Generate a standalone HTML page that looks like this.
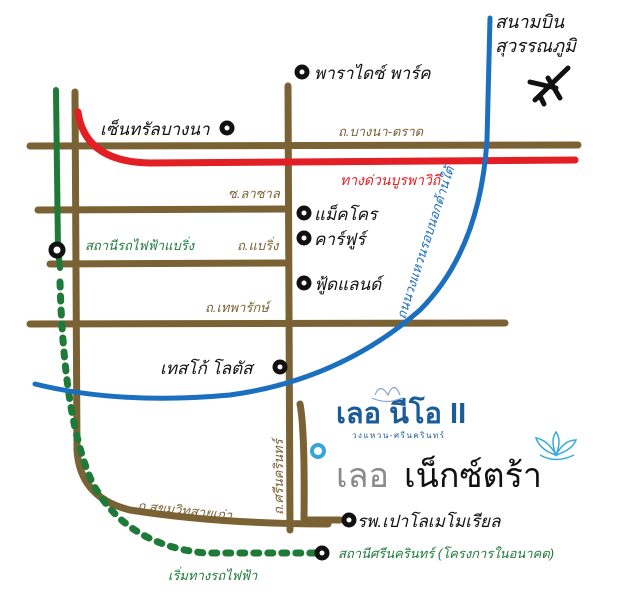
<!DOCTYPE html>
<html><head><meta charset="utf-8"><style>
html,body{margin:0;padding:0;background:#fff;}
svg{display:block;}
text{font-family:"Liberation Sans","Noto Sans CJK SC","WenQuanYi Zen Hei",sans-serif;}
</style></head><body>
<svg width="632" height="609" viewBox="0 0 632 609" xmlns="http://www.w3.org/2000/svg">
<g fill="none" stroke-linecap="round">
<g stroke="#7a6235" stroke-width="7">
<path d="M30 146 L578 145"/>
<path d="M38 210 L286 209"/>
<path d="M50 264 L286 263"/>
<path d="M30 324 L505 323"/>
<path d="M288 86 L290 530"/>
<path d="M75 92 L77 450 Q80 498 130 510 Q220 524 328 524"/>
<path d="M300 404 Q305 430 304 520 L340 520"/>
</g>
<path d="M78 112 Q85 162 150 163 L575 160" stroke="#e31e24" stroke-width="7"/>
<path d="M56 90 L58 250 L60 268" stroke="#1f7a3a" stroke-width="6"/>
<path d="M60 282 Q64 420 92 482 Q125 545 205 553 L318 553" stroke="#1f7a3a" stroke-width="7" stroke-dasharray="5 9"/>
<path d="M490 18 L487 140 Q480 250 420 310 Q340 380 230 395 Q120 405 35 384" stroke="#1b6fbf" stroke-width="5"/>
</g>
<g fill="#fff" stroke="#111" stroke-width="5">
<circle cx="302" cy="72" r="5"/>
<circle cx="227" cy="128" r="5"/>
<circle cx="304" cy="213" r="5"/>
<circle cx="304" cy="238" r="5"/>
<circle cx="304" cy="283" r="5"/>
<circle cx="280" cy="367" r="5"/>
<circle cx="349" cy="520" r="5"/>
<circle cx="322" cy="553" r="5"/>
<circle cx="57" cy="250" r="6"/>
</g>
<circle cx="318" cy="451" r="6" fill="#fff" stroke="#36a6d8" stroke-width="4"/>
<g fill="#111" font-style="italic">
<text x="495" y="28" font-size="18">สนามบิน</text>
<text x="495" y="52" font-size="18">สุวรรณภูมิ</text>
<text x="314" y="79" font-size="17">พาราไดซ์ พาร์ค</text>
<text x="100" y="135" font-size="17">เซ็นทรัลบางนา</text>
<text x="314" y="220" font-size="17">แม็คโคร</text>
<text x="314" y="245" font-size="17">คาร์ฟูร์</text>
<text x="314" y="290" font-size="17">ฟู้ดแลนด์</text>
<text x="160" y="374" font-size="17">เทสโก้ โลตัส</text>
<text x="357" y="527" font-size="17">รพ.เปาโลเมโมเรียล</text>
</g>
<g stroke="#111" stroke-width="5" fill="none" stroke-linecap="round">
<path d="M535 100 L568 68"/>
<path d="M548 78 L560 98"/>
<path d="M530 82 L556 88"/>
<path d="M540 96 L544 104"/>
</g>
<g fill="#7a6235" font-size="13" font-style="italic">
<text x="338" y="136">ถ.บางนา-ตราด</text>
<text x="228" y="198">ซ.ลาซาล</text>
<text x="237" y="250">ถ.แบริ่ง</text>
<text x="205" y="312">ถ.เทพารักษ์</text>
<text x="137" y="510" transform="rotate(6 137 510)">ถ.สุขุมวิทสายเก่า</text>
<text x="283" y="515" transform="rotate(-90 283 515)">ถ.ศรีนครินทร์</text>
</g>
<text x="340" y="185" fill="#e31e24" font-size="14" font-style="italic">ทางด่วนบูรพาวิถี</text>
<text x="405" y="320" fill="#1b6fbf" font-size="13" font-style="italic" transform="rotate(-72 405 320)">ถนนวงแหวนรอบนอกด้านใต้</text>
<g fill="#1f7a3a" font-size="13" font-style="italic">
<text x="85" y="250">สถานีรถไฟฟ้าแบริ่ง</text>
<text x="338" y="558">สถานีศรีนครินทร์ (โครงการในอนาคต)</text>
<text x="168" y="580">เริ่มทางรถไฟฟ้า</text>
</g>
<text x="336" y="423" fill="#1a5c97" font-size="29" font-weight="bold">เลอ นีโอ II</text>
<text x="352" y="438" fill="#1a5c97" font-size="8" letter-spacing="1.5">วงแหวน-ศรีนครินทร์</text>
<g stroke="#8aa6c8" stroke-width="1.2" fill="none">
<path d="M375 395 Q380 382 388 395 Q394 380 400 395"/>
<path d="M372 398 Q387 405 402 398"/>
</g>
<text x="336" y="487" fill="#8a8a8a" font-size="34">เลอ</text>
<text x="404" y="487" fill="#111" font-size="34">เน็กซ์ตร้า</text>
<g stroke="#39a9dc" stroke-width="1.5" fill="none">
<path d="M556 455 Q550 440 556 432 Q562 440 556 455Z"/>
<path d="M556 455 Q540 450 536 438 Q548 440 556 455Z"/>
<path d="M556 455 Q572 450 576 440 Q564 440 556 455Z"/>
<path d="M540 455 Q556 464 574 455"/>
</g>
</svg>
</body></html>
